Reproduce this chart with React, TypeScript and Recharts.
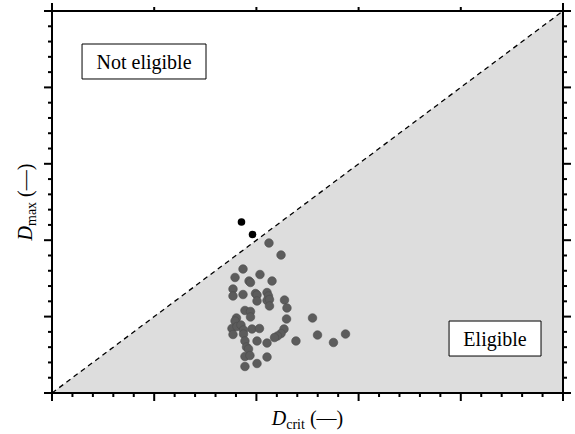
// Dmax vs Dcrit scatter with eligibility region (grey triangle under the 1:1 line).
import { ComposedChart, Area, Scatter, XAxis, YAxis, ReferenceArea, Label } from "recharts";

// tick positions (no labels in the figure, only major/minor marks)
const majorTicks = [0, 1, 2, 3, 4, 5];
const allTicks = [
  0, 0.2, 0.4, 0.6, 0.8, 1, 1.2, 1.4, 1.6, 1.8, 2, 2.2, 2.4, 2.6, 2.8, 3, 3.2, 3.4, 3.6, 3.8, 4, 4.2, 4.4,
  4.6, 4.8, 5,
];

// 1:1 line
const lineDcrit = [0, 5];
const lineDmax = [0, 5];

// eligible points (below the line)
const eligibleDcrit = [
  2.123, 2.241, 1.869, 1.791, 1.928, 1.942, 2.035, 2.153, 1.771, 1.771, 1.869, 1.991, 2.006, 2.006, 2.104,
  2.118, 2.104, 2.128, 2.128, 2.275, 2.299, 1.888, 1.942, 1.942, 1.805, 1.791, 2.295, 2.549, 1.761, 1.81,
  1.849, 1.771, 1.874, 1.957, 2.03, 1.874, 2.27, 2.241, 2.206, 2.177, 1.888, 2.006, 2.104, 2.387, 2.598,
  2.872, 2.754, 1.903, 1.923, 1.888, 1.937, 2.104, 2.006, 1.888,
];
const eligibleDmax = [
  1.963, 1.806, 1.623, 1.512, 1.466, 1.446, 1.551, 1.466, 1.361, 1.27, 1.289, 1.302, 1.283, 1.204, 1.315,
  1.27, 1.211, 1.224, 1.139, 1.217, 1.113, 1.08, 1.067, 0.995, 0.982, 0.942, 0.969, 0.982, 0.844, 0.87, 0.89,
  0.766, 0.825, 0.838, 0.844, 0.772, 0.838, 0.779, 0.746, 0.726, 0.681, 0.681, 0.654, 0.681, 0.759, 0.772,
  0.661, 0.602, 0.576, 0.478, 0.491, 0.471, 0.386, 0.347,
];

// not eligible points (above the line)
const notEligibleDcrit = [1.854, 1.962];
const notEligibleDmax = [2.238, 2.075];

const lineData = lineDcrit.map((d, i) => ({ dcrit: d, dmax: lineDmax[i] }));
const eligible = eligibleDcrit.map((d, i) => ({ dcrit: d, dmax: eligibleDmax[i] }));
const notEligible = notEligibleDcrit.map((d, i) => ({ dcrit: d, dmax: notEligibleDmax[i] }));

const FONT = "'Liberation Serif', 'Times New Roman', serif";

function isMajor(v: number) {
  return majorTicks.some((m) => Math.abs(m - v) < 1e-6);
}

function tickLen(v: number) {
  return isMajor(v) ? 8 : 4;
}

const BottomTick = (p: any) => (
  <line x1={p.x} x2={p.x} y1={p.y} y2={p.y + tickLen(p.payload.value)} stroke="#000" strokeWidth={2} />
);
const TopTick = (p: any) => (
  <line x1={p.x} x2={p.x} y1={p.y} y2={p.y - tickLen(p.payload.value)} stroke="#000" strokeWidth={2} />
);
const LeftTick = (p: any) => (
  <line x1={p.x} x2={p.x - tickLen(p.payload.value)} y1={p.y} y2={p.y} stroke="#000" strokeWidth={2} />
);
const RightTick = (p: any) => (
  <line x1={p.x} x2={p.x + tickLen(p.payload.value)} y1={p.y} y2={p.y} stroke="#000" strokeWidth={2} />
);

const XTitle = (p: any) => {
  const vb = p.viewBox;
  return (
    <text x={vb.x + vb.width / 2} y={425} textAnchor="middle" fontFamily={FONT} fontSize={20} fill="#000">
      <tspan fontStyle="italic">D</tspan>
      <tspan fontSize={14} dy={4}>crit</tspan>
      <tspan dy={-4}> (—)</tspan>
    </text>
  );
};

const YTitle = (p: any) => {
  const vb = p.viewBox;
  const cy = vb.y + vb.height / 2;
  return (
    <text
      x={32}
      y={cy}
      transform={`rotate(-90, 32, ${cy})`}
      textAnchor="middle"
      fontFamily={FONT}
      fontSize={20}
      fill="#000"
    >
      <tspan fontStyle="italic">D</tspan>
      <tspan fontSize={14} dy={4}>max</tspan>
      <tspan dy={-4}> (—)</tspan>
    </text>
  );
};

const GreyDot = (p: any) => <circle cx={p.cx} cy={p.cy} r={4.3} fill="#5c5c5c" stroke="#4d4d4d" strokeWidth={0.6} />;
const BlackDot = (p: any) => <circle cx={p.cx} cy={p.cy} r={3.8} fill="#000" />;

const axisLine = { stroke: "#000", strokeWidth: 2 };
const boxLabelStyle = { position: "center" as const, fill: "#000", fontSize: 20, fontFamily: FONT };

export default function App() {
  return (
    <div
      style={{
        position: "absolute",
        left: 0,
        top: 0,
        width: 575,
        height: 434,
        background: "#fff",
        fontFamily: FONT,
      }}
    >
      <ComposedChart width={575} height={434} data={lineData} margin={{ top: 0, right: 0, bottom: 0, left: 0 }}>
        <XAxis
          dataKey="dcrit"
          type="number"
          domain={[0, 5]}
          ticks={allTicks}
          interval={0}
          height={41}
          tickSize={0}
          tickMargin={0}
          tick={BottomTick}
          tickLine={false}
          axisLine={axisLine}
          allowDataOverflow
        >
          <Label content={XTitle} />
        </XAxis>
        <XAxis
          xAxisId="top"
          orientation="top"
          type="number"
          domain={[0, 5]}
          ticks={allTicks}
          interval={0}
          height={11}
          tickSize={0}
          tickMargin={0}
          tick={TopTick}
          tickLine={false}
          axisLine={axisLine}
          allowDataOverflow
        />
        <YAxis
          type="number"
          domain={[0, 5]}
          ticks={allTicks}
          interval={0}
          width={52}
          tickSize={0}
          tickMargin={0}
          tick={LeftTick}
          tickLine={false}
          axisLine={axisLine}
          allowDataOverflow
        >
          <Label content={YTitle} />
        </YAxis>
        <YAxis
          yAxisId="right"
          orientation="right"
          type="number"
          domain={[0, 5]}
          ticks={allTicks}
          interval={0}
          width={12}
          tickSize={0}
          tickMargin={0}
          tick={RightTick}
          tickLine={false}
          axisLine={axisLine}
          allowDataOverflow
        />
        <Area
          dataKey="dmax"
          type="linear"
          fill="#dddddd"
          fillOpacity={1}
          stroke="#000"
          strokeWidth={1.3}
          strokeDasharray="5 4"
          dot={false}
          activeDot={false}
          isAnimationActive={false}
        />
        <ReferenceArea
          x1={0.294}
          x2={1.507}
          y1={4.11}
          y2={4.568}
          fill="#fff"
          fillOpacity={1}
          stroke="#000"
          strokeWidth={1}
          label={{ value: "Not eligible", ...boxLabelStyle }}
        />
        <ReferenceArea
          x1={3.885}
          x2={4.785}
          y1={0.484}
          y2={0.942}
          fill="#fff"
          fillOpacity={1}
          stroke="#000"
          strokeWidth={1}
          label={{ value: "Eligible", ...boxLabelStyle }}
        />
        <Scatter data={eligible} dataKey="dmax" shape={GreyDot} isAnimationActive={false} />
        <Scatter data={notEligible} dataKey="dmax" shape={BlackDot} isAnimationActive={false} />
      </ComposedChart>
    </div>
  );
}
